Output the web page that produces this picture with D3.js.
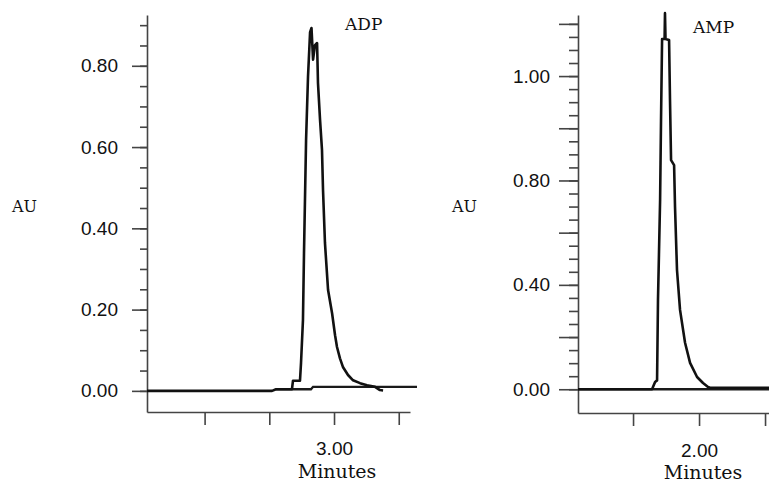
<!DOCTYPE html>
<html>
<head>
<meta charset="utf-8">
<script src="https://cdn.jsdelivr.net/npm/d3@7"></script>
<style>
	body { margin: 0; background: #fff; overflow: hidden; }
	svg { display: block; }
	.axis path, .axis line { stroke: #444; stroke-width: 1.6; }
	.axis text { font-family: "Liberation Sans", Arial, sans-serif; font-size: 19px; fill: #111; }
	.serif { font-family: "DejaVu Serif", serif; fill: #111; }
</style>
</head>
<body>
<svg id="chart"></svg>
<script>
// ADP chromatogram (minutes, AU)
const adpTime = [1.555, 2.521, 2.552, 2.675, 2.683, 2.737, 2.745, 2.760, 2.768, 2.784, 2.799, 2.815, 2.826, 2.838, 2.853, 2.869, 2.876, 2.892, 2.907, 2.915, 2.930, 2.954, 2.985, 3.008, 3.023, 3.046, 3.070, 3.108, 3.147, 3.201, 3.255, 3.317, 3.355, 3.379];
const adpAU = [0, 0, 0.004, 0.004, 0.025, 0.025, 0.069, 0.174, 0.339, 0.617, 0.773, 0.883, 0.893, 0.815, 0.851, 0.856, 0.758, 0.667, 0.593, 0.494, 0.364, 0.248, 0.191, 0.137, 0.108, 0.080, 0.058, 0.039, 0.026, 0.019, 0.014, 0.010, 0.002, 0.001];
const adpBaseTime = [2.552, 2.822, 2.838, 3.641];
const adpBaseAU = [0.004, 0.004, 0.010, 0.010];

// AMP chromatogram (minutes, AU)
const ampTime = [1.083, 1.644, 1.667, 1.682, 1.689, 1.705, 1.712, 1.720, 1.739, 1.742, 1.746, 1.773, 1.780, 1.788, 1.811, 1.818, 1.833, 1.856, 1.894, 1.932, 1.985, 2.030, 2.068, 2.083, 2.530];
const ampAU = [0, 0, 0.028, 0.034, 0.342, 0.725, 1.032, 1.342, 1.342, 1.441, 1.342, 1.338, 1.108, 0.878, 0.859, 0.699, 0.457, 0.304, 0.178, 0.101, 0.047, 0.024, 0.009, 0.006, 0.006];
const ampBaseTime = [1.083, 2.530];
const ampBaseAU = [0, 0];

// axis ticks
const adpYMajor = [0, 0.2, 0.4, 0.6, 0.8];
const adpYLabels = ["0.00", "0.20", "0.40", "0.60", "0.80"];
const adpYMinor = d3.range(0, 0.91, 0.05);
const adpXTicks = [2.0, 2.5, 3.0, 3.5];
const adpXLabels = ["", "", "3.00", ""];

const ampYMajor = [0, 0.2, 0.4, 0.6, 0.8, 1.0, 1.2, 1.4];
const ampYLabels = ["0.00", "", "0.40", "", "0.80", "", "1.00", ""];
const ampYMinor = d3.range(0, 1.41, 0.05);
const ampXTicks = [1.5, 2.0, 2.5];
const ampXLabels = ["", "2.00", ""];

const width = 769,
	height = 485;

const svg = d3.select("#chart").attr("width", width).attr("height", height);

const line = (x, y) =>
	d3
		.line()
		.x((d) => x(d[0]))
		.y((d) => y(d[1]));

function drawPanel(p) {
	const g = svg.append("g");
	const x = d3.scaleLinear().domain(p.xDomain).range(p.xRange);
	const y = d3.scaleLinear().domain(p.yDomain).range(p.yRange);

	// minor y ticks
	g.append("g")
		.attr("class", "axis")
		.attr("transform", `translate(${p.xRange[0]},0)`)
		.call(d3.axisLeft(y).tickValues(p.yMinor).tickSize(p.minorLen).tickSizeOuter(0).tickFormat(""))
		.select(".domain")
		.remove();

	// major y ticks + axis line
	g.append("g")
		.attr("class", "axis")
		.attr("transform", `translate(${p.xRange[0]},0)`)
		.call(
			d3
				.axisLeft(y)
				.tickValues(p.yMajor)
				.tickSize(p.majorLen)
				.tickSizeOuter(0)
				.tickPadding(p.yPad)
				.tickFormat((d, i) => p.yLabels[i])
		);

	// x axis
	g.append("g")
		.attr("class", "axis")
		.attr("transform", `translate(0,${p.yRange[0]})`)
		.call(
			d3
				.axisBottom(x)
				.tickValues(p.xTicks)
				.tickSize(13)
				.tickSizeOuter(0)
				.tickPadding(p.xPad)
				.tickFormat((d, i) => p.xLabels[i])
		);

	// baseline + trace
	g.append("path")
		.datum(d3.zip(p.baseTime, p.baseAU))
		.attr("fill", "none")
		.attr("stroke", "#1a1a1a")
		.attr("stroke-width", 2.3)
		.attr("d", line(x, y));

	g.append("path")
		.datum(d3.zip(p.time, p.au))
		.attr("fill", "none")
		.attr("stroke", "#111")
		.attr("stroke-width", 2.6)
		.attr("stroke-linejoin", "round")
		.attr("d", line(x, y));

	// labels
	g.append("text")
		.attr("class", "serif")
		.attr("x", p.auX)
		.attr("y", 212)
		.style("font-size", "16px")
		.text("AU");

	g.append("text")
		.attr("class", "serif")
		.attr("x", p.nameX)
		.attr("y", p.nameY)
		.style("font-size", "17px")
		.text(p.name);

	g.append("text")
		.attr("class", "serif")
		.attr("x", p.minX)
		.attr("y", p.minY)
		.attr("text-anchor", "middle")
		.style("font-size", "19px")
		.text("Minutes");
}

drawPanel({
	time: adpTime, au: adpAU, baseTime: adpBaseTime, baseAU: adpBaseAU,
	xDomain: [1.555, 3.587], xRange: [147, 410],
	yDomain: [-0.052, 0.925], yRange: [412, 15],
	yMajor: adpYMajor, yLabels: adpYLabels, yMinor: adpYMinor,
	xTicks: adpXTicks, xLabels: adpXLabels,
	majorLen: 15, minorLen: 7, yPad: 14, xPad: 17,
	auX: 12, name: "ADP", nameX: 345, nameY: 30, minX: 337, minY: 478
});

drawPanel({
	time: ampTime, au: ampAU, baseTime: ampBaseTime, baseAU: ampBaseAU,
	xDomain: [1.083, 2.53], xRange: [578, 769],
	yDomain: [-0.091, 1.434], yRange: [413, 15],
	yMajor: ampYMajor, yLabels: ampYLabels, yMinor: ampYMinor,
	xTicks: ampXTicks, xLabels: ampXLabels,
	majorLen: 19, minorLen: 9, yPad: 9, xPad: 18,
	auX: 452, name: "AMP", nameX: 693, nameY: 33, minX: 703, minY: 479
});
</script>
</body>
</html>
